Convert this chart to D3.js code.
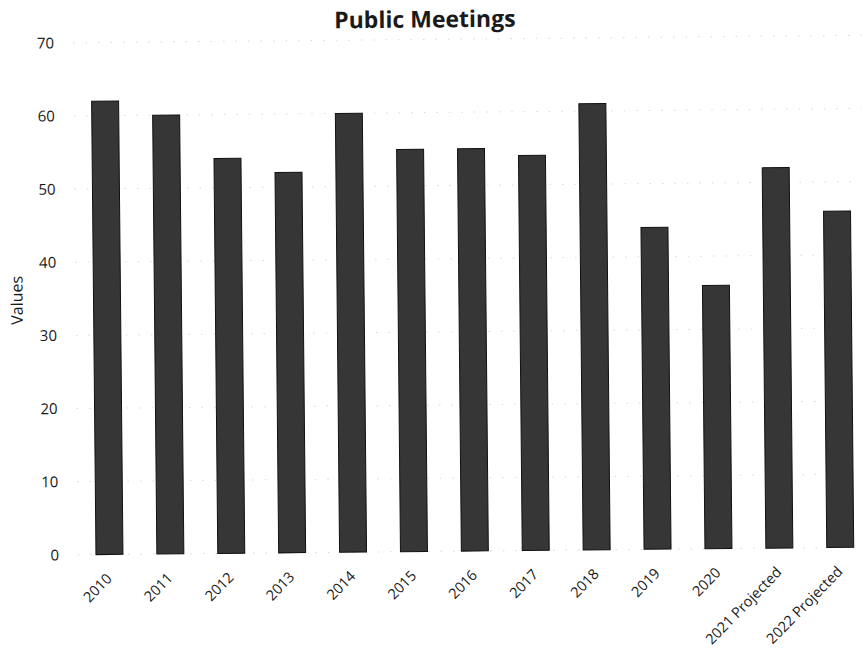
<!DOCTYPE html>
<html>
<head>
<meta charset="utf-8">
<script src="https://cdn.jsdelivr.net/npm/d3@7"></script>
<style>
  html, body { margin: 0; padding: 0; background: #fff; }
  svg { display: block; }
  text { font-family: "Open Sans", "Noto Sans", sans-serif; fill: #1a1a1a; }
</style>
</head>
<body>
<svg id="chart" width="862" height="655"></svg>
<script>
// ---- data ----
const categories = ["2010", "2011", "2012", "2013", "2014", "2015", "2016", "2017", "2018", "2019", "2020", "2021 Projected", "2022 Projected"];
const meetings = [62, 60, 54, 52, 60, 55, 55, 54, 61, 44, 36, 52, 46];
const yTicks = [0, 10, 20, 30, 40, 50, 60, 70];
const chartTitle = "Public Meetings";
const yAxisTitle = "Values";

// ---- layout ----
const baseY = 551, topY = 39;
const svg = d3.select("#chart");

// the scanned reference is tilted slightly; reproduce the tilt
const g = svg.append("g").attr("transform", "rotate(-0.55, 474, 551)");

const x = d3.scaleBand()
  .domain(categories)
  .range([65.5, 884.2])
  .paddingInner(0.557)
  .paddingOuter(0.5);

const y = d3.scaleLinear().domain([0, 70]).range([baseY, topY]);

// gridlines (very faint, dotted)
g.append("g")
  .selectAll("line")
  .data(yTicks)
  .join("line")
  .attr("x1", 78).attr("x2", 870)
  .attr("y1", d => y(d)).attr("y2", d => y(d))
  .attr("stroke", "#d8d8d8")
  .attr("stroke-width", 1)
  .attr("stroke-dasharray", "1.5,11");

// y axis (labels only)
const yAxis = d3.axisLeft(y).tickValues(yTicks).tickSize(0).tickPadding(0);
const yG = g.append("g").attr("transform", "translate(59,0)").call(yAxis);
yG.select(".domain").remove();
yG.selectAll("text").attr("font-size", 15).attr("fill", "#1a1a1a")
  .style("font-family", '"Open Sans", sans-serif');

// bars
g.append("g")
  .selectAll("rect")
  .data(meetings)
  .join("rect")
  .attr("x", (d, i) => x(categories[i]))
  .attr("y", d => y(d))
  .attr("width", x.bandwidth())
  .attr("height", d => y(0) - y(d))
  .attr("fill", "#363636")
  .attr("stroke", "#111")
  .attr("stroke-width", 1);

// x axis labels
const xAxis = d3.axisBottom(x).tickSize(0).tickPadding(0);
const xG = g.append("g").attr("transform", `translate(0,${baseY})`).call(xAxis);
xG.select(".domain").remove();
xG.selectAll("text")
  .attr("font-size", 14.5)
  .attr("fill", "#1a1a1a")
  .style("font-family", '"Open Sans", sans-serif')
  .attr("text-anchor", "end")
  .attr("dy", null)
  .attr("y", 0)
  .attr("transform", "translate(3,25) rotate(-45)");

// y axis title
g.append("text")
  .attr("transform", "translate(25,296) rotate(-90)")
  .attr("text-anchor", "middle")
  .attr("font-size", 16)
  .text(yAxisTitle);

// chart title
g.append("text")
  .attr("x", 430)
  .attr("y", 27)
  .attr("text-anchor", "middle")
  .attr("font-size", 23)
  .attr("font-weight", 700)
  .text(chartTitle);
</script>
</body>
</html>
